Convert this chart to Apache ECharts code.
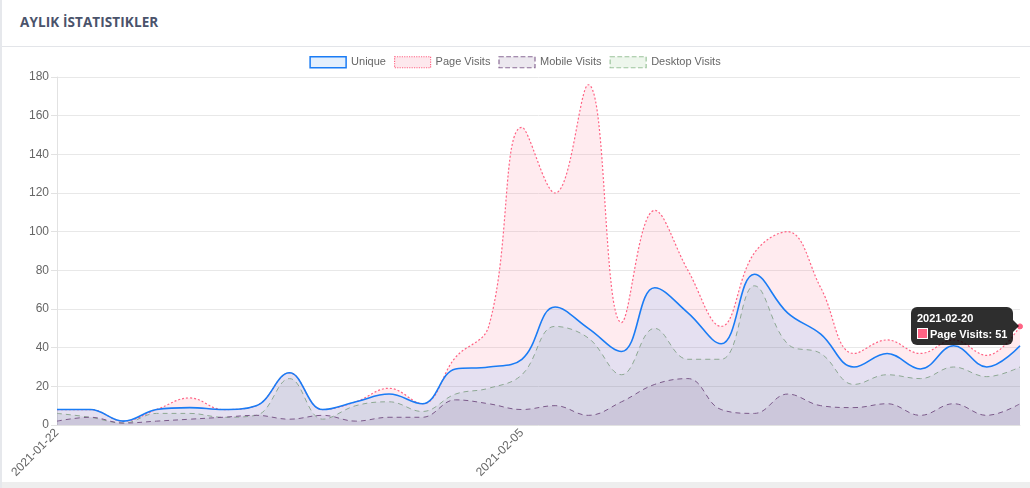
<!DOCTYPE html>
<html>
<head>
<meta charset="utf-8">
<script src="https://cdn.jsdelivr.net/npm/echarts@6/dist/echarts.min.js"></script>
<style>
  html, body { margin: 0; padding: 0; background: #fff; }
  #page { position: relative; width: 1030px; height: 488px; overflow: hidden; border-left: 2px solid #e6e8ec; box-sizing: border-box; }
  #head { position: absolute; left: 0; top: 0; width: 1030px; height: 47px; border-bottom: 1px solid #e3e5e9; box-sizing: border-box; }
  #head h4 { margin: 0; position: absolute; left: 18px; top: 13px; font: bold 13.5px "Open Sans", sans-serif; letter-spacing: 0.1px; color: #4a536b; }
  #foot { position: absolute; left: 0; top: 482px; width: 1030px; height: 6px; background: #eeeeee; }
  #chart { position: absolute; left: -2px; top: 0; width: 1030px; height: 488px; }
</style>
</head>
<body>
<div id="page">
  <div id="head"><h4>AYLIK İSTATISTIKLER</h4></div>
  <div id="chart"></div>
  <div id="foot"></div>
</div>
<script>
// tarihler
const days = ['2021-01-22', '2021-01-23', '2021-01-24', '2021-01-25', '2021-01-26', '2021-01-27',
  '2021-01-28', '2021-01-29', '2021-01-30', '2021-01-31', '2021-02-01', '2021-02-02',
  '2021-02-03', '2021-02-04', '2021-02-05', '2021-02-06', '2021-02-07', '2021-02-08',
  '2021-02-09', '2021-02-10', '2021-02-11', '2021-02-12', '2021-02-13', '2021-02-14',
  '2021-02-15', '2021-02-16', '2021-02-17', '2021-02-18', '2021-02-19', '2021-02-20']

const unique = [8, 8, 2, 8, 9, 8, 10, 27, 8, 12, 16, 11, 29, 30, 34, 61, 50, 38, 71, 58, 42, 78, 58, 47, 30, 37, 29, 41, 30, 41]
const pageVisits = [8, 8, 2, 8, 14, 8, 10, 27, 8, 12, 19, 11, 35, 51, 154, 120, 176, 53, 111, 80, 51, 89, 100, 71, 37, 44, 37, 44, 36, 51]
const mobileVisits = [2, 4, 1, 2, 3, 4, 5, 3, 5, 2, 4, 4, 13, 11, 8, 10, 5, 12, 21, 24, 8, 6, 16, 10, 9, 11, 5, 11, 5, 11]
const desktopVisits = [6, 4, 1, 6, 6, 4, 5, 24, 3, 10, 12, 7, 16, 19, 26, 51, 45, 26, 50, 34, 34, 72, 42, 37, 21, 26, 24, 30, 25, 30]

const yTicks = [0, 20, 40, 60, 80, 100, 120, 140, 160, 180]
// sadece bu etiketler gorunuyor
const shownDays = ['2021-01-22', '2021-02-05']

const chart = echarts.init(document.getElementById('chart'))

// son noktada hover noktasi
const pageData = pageVisits.map((v, i) => i === pageVisits.length - 1
  ? { value: v, symbol: 'circle', symbolSize: 5, itemStyle: { color: '#ff6384', borderColor: '#ff6384' } }
  : v)

function lineSeries(name, data, color, type, width, area) {
  return {
    name,
    type: 'line',
    data,
    smooth: 0.4,
    symbol: 'none',
    showSymbol: true,
    lineStyle: { color, type, width },
    itemStyle: { color },
    areaStyle: { color: area, opacity: 1, origin: 'start' },
    emphasis: { disabled: true }
  }
}

const font = '"Liberation Sans", Arial, sans-serif'

chart.setOption({
  animation: false,
  legend: {
    top: 51,
    left: 'center',
    itemWidth: 36,
    itemHeight: 11,
    itemGap: 8,
    textStyle: { color: '#666', fontSize: 11, fontFamily: font },
    data: [
      { name: 'Unique', icon: 'rect', itemStyle: { color: '#e3effd', borderColor: '#1a7cf5', borderWidth: 1.5 } },
      { name: 'Page Visits', icon: 'rect', itemStyle: { color: '#fde8ed', borderColor: '#ff6384', borderWidth: 1.2, borderType: 'dotted' } },
      { name: 'Mobile Visits', icon: 'rect', itemStyle: { color: '#ece8ef', borderColor: '#8a6c96', borderWidth: 1.2, borderType: 'dashed' } },
      { name: 'Desktop Visits', icon: 'rect', itemStyle: { color: '#edf6ec', borderColor: '#9cc49c', borderWidth: 1.2, borderType: 'dashed' } }
    ]
  },
  tooltip: {
    trigger: 'item',
    alwaysShowContent: true,
    position: (point, params, dom, rect, size) =>
      [point[0] - size.contentSize[0] - 7, point[1] - size.contentSize[1] / 2],
    backgroundColor: 'rgba(0,0,0,0.82)',
    borderWidth: 0,
    borderRadius: 6,
    padding: [3, 6, 3, 6],
    extraCssText: 'box-shadow:none;overflow:visible;',
    textStyle: { color: '#fff', fontSize: 11, fontFamily: font, fontWeight: 'bold' },
    formatter: p => '<div style="line-height:16px;position:relative">' +
      '<span style="position:absolute;right:-12px;top:50%;margin-top:-6px;width:0;height:0;border-top:6px solid transparent;border-bottom:6px solid transparent;border-left:6px solid rgba(0,0,0,0.82)"></span>' +
      '<b>' + days[p.dataIndex] + '</b><br/>' +
      '<span style="display:inline-block;width:9px;height:9px;background:#ff6384;border:1px solid #fff;vertical-align:-1px;margin-right:2px"></span>' +
      p.seriesName + ': ' + p.value + '</div>'
  },
  grid: { left: 57, right: 10, top: 77, bottom: 63 },
  xAxis: {
    type: 'category',
    data: days,
    boundaryGap: false,
    axisLine: { lineStyle: { color: '#e2e2e2' } },
    axisTick: { show: false },
    splitLine: { show: false },
    axisLabel: {
      interval: (i, v) => shownDays.includes(v),
      rotate: 45,
      color: '#666',
      fontSize: 12,
      fontFamily: font,
      margin: 6
    }
  },
  yAxis: {
    type: 'value',
    min: yTicks[0],
    max: yTicks[yTicks.length - 1],
    interval: 20,
    axisLine: { show: true, lineStyle: { color: '#e2e2e2' } },
    axisTick: { show: true, length: 6, lineStyle: { color: '#e2e2e2' } },
    splitLine: { lineStyle: { color: '#e8e8e8' } },
    axisLabel: { color: '#666', fontSize: 12, fontFamily: font, margin: 8 }
  },
  series: [
    lineSeries('Desktop Visits', desktopVisits, '#8ea894', [5, 4], 1, 'rgba(100,140,120,0.10)'),
    lineSeries('Mobile Visits', mobileVisits, '#7b5a8a', [5, 4], 1, 'rgba(111,66,130,0.11)'),
    lineSeries('Page Visits', pageData, '#ff6384', [2, 2], 1.2, 'rgba(255,99,132,0.13)'),
    lineSeries('Unique', unique, '#1a7cf5', 'solid', 1.6, 'rgba(0,123,255,0.10)')
  ]
})

chart.dispatchAction({ type: 'showTip', seriesIndex: 2, dataIndex: 29 })
</script>
</body>
</html>
